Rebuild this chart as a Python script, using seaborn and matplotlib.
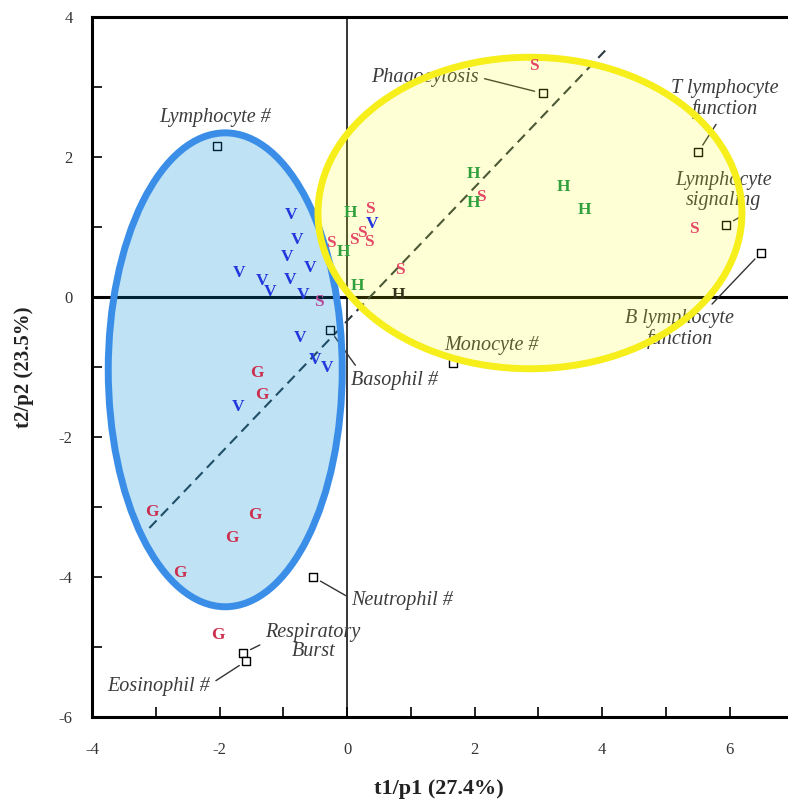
import numpy as np
import pandas as pd
import matplotlib
matplotlib.use("Agg")
import matplotlib.pyplot as plt
from matplotlib.patches import Ellipse
import seaborn as sns

# ---- data -------------------------------------------------------------
v_x = [-0.88, -0.78, -0.94, -0.58, -1.69, -1.33, -1.21, -0.89, -0.69, -0.74, -0.50, -0.31, -1.71, 0.40]
v_y = [1.17, 0.81, 0.57, 0.41, 0.34, 0.23, 0.07, 0.24, 0.03, -0.59, -0.90, -1.01, -1.57, 1.04]

s_x = [-0.25, 0.11, 0.24, 0.35, 0.36, 0.83, 2.10, 2.93, 5.44]
s_y = [0.77, 0.81, 0.91, 0.79, 1.26, 0.39, 1.43, 3.30, 0.97]
s_purple_x = [-0.44]
s_purple_y = [-0.07]

h_x = [0.06, -0.06, 0.17, 1.98, 1.99, 3.39, 3.73]
h_y = [1.20, 0.64, 0.16, 1.76, 1.34, 1.57, 1.24]
h_dark_x = [0.80]
h_dark_y = [0.03]

g_x = [-1.41, -1.33, -3.06, -1.44, -1.80, -2.62, -2.02]
g_y = [-1.09, -1.40, -3.07, -3.11, -3.44, -3.94, -4.83]

load_names = ["Lymphocyte #", "Phagocytosis", "T lymphocyte\nfunction", "Lymphocyte\nsignaling",
              "B lymphocyte\nfunction", "Monocyte #", "Basophil #", "Neutrophil #",
              "Respiratory\nBurst", "Eosinophil #"]
load_x = [-2.04, 3.07, 5.51, 5.95, 6.49, 1.66, -0.27, -0.53, -1.63, -1.58]
load_y = [2.16, 2.91, 2.07, 1.03, 0.63, -0.95, -0.47, -4.00, -5.09, -5.20]
label_x = [-2.07, 1.22, 5.93, 5.90, 5.22, 2.26, 0.74, 0.87, -0.53, -2.95]
label_y = [2.57, 3.14, 2.83, 1.52, -0.46, -0.69, -1.19, -4.34, -4.93, -5.56]
label_rel = [None, (1.0, 0.5), (0.45, 0.0), (0.8, 0.0), (0.75, 1.0), None, (0.1, 1.0),
             (0.0, 0.6), (0.0, 0.5), (1.0, 0.6)]

trend_x = [-3.10, 4.05]
trend_y = [-3.30, 3.52]

blue_center = (-1.91, -1.04)
blue_size = (3.67, 6.77)
yellow_center = (2.87, 1.20)
yellow_size = (6.65, 4.45)

x_ticks = [-4, -2, 0, 2, 4, 6]
y_ticks = [-6, -4, -2, 0, 2, 4]
x_label = "t1/p1 (27.4%)"
y_label = "t2/p2 (23.5%)"

# ---- figure -------------------------------------------------------------
sns.set_style("white")
plt.rcParams["font.family"] = ["Liberation Serif", "DejaVu Serif"]
plt.rcParams["axes.unicode_minus"] = False

fig = plt.figure(figsize=(7.88, 8.01), dpi=100)
ax = fig.add_axes([92 / 788, 84 / 801, 701.25 / 788, 700 / 801])

ax.set_xlim(-4, 7)
ax.set_ylim(-6, 4)

# zero lines
ax.axhline(0, color="black", lw=2.2, zorder=1)
ax.axvline(0, color="black", lw=1.1, zorder=1)

# trend line
trend = pd.DataFrame({"x": trend_x, "y": trend_y})
sns.lineplot(data=trend, x="x", y="y", ax=ax, color="#2b3a40", lw=1.5,
             linestyle=(0, (5, 3)), zorder=2)

# loading squares
loads = pd.DataFrame({"x": load_x, "y": load_y, "name": load_names})
sns.scatterplot(data=loads, x="x", y="y", ax=ax, marker="s", s=40,
                facecolor="white", edgecolor="black", linewidth=1.0, zorder=3)

for name, lx, ly, tx, ty, rel in zip(load_names, load_x, load_y, label_x, label_y, label_rel):
    if rel is None:
        ax.text(tx, ty, name, ha="center", va="center", style="italic",
                fontsize=14.5, color="#3c3c3c", zorder=3)
    else:
        ax.annotate(name, xy=(lx, ly), xytext=(tx, ty), ha="center", va="center",
                    style="italic", fontsize=14.5, color="#3c3c3c", multialignment="center",
                    linespacing=1.05,
                    arrowprops=dict(arrowstyle="-", color="#333333", lw=1.0,
                                    shrinkA=2, shrinkB=6, relpos=rel),
                    zorder=3)

# ellipses (translucent fills, opaque edges)
ax.add_patch(Ellipse(blue_center, blue_size[0], blue_size[1], facecolor=(0.0, 0.55, 0.85, 0.25),
                     edgecolor="none", zorder=5))
ax.add_patch(Ellipse(blue_center, blue_size[0], blue_size[1], facecolor="none",
                     edgecolor="#3a8ee8", lw=5, zorder=6))
ax.add_patch(Ellipse(yellow_center, yellow_size[0], yellow_size[1], facecolor=(1.0, 1.0, 0.0, 0.16),
                     edgecolor="none", zorder=5))
ax.add_patch(Ellipse(yellow_center, yellow_size[0], yellow_size[1], facecolor="none",
                     edgecolor="#f6ef1c", lw=5, zorder=6))

# letter scores (on top)
def letters(xs, ys, ch, color):
    for x, y in zip(xs, ys):
        ax.text(x, y, ch, ha="center", va="center", fontsize=12.5, fontweight="bold",
                color=color, zorder=7)

letters(v_x, v_y, "V", "#2338dc")
letters(s_x, s_y, "S", "#e44a68")
letters(s_purple_x, s_purple_y, "S", "#b54a9a")
letters(h_x, h_y, "H", "#30a03c")
letters(h_dark_x, h_dark_y, "H", "#33331a")
letters(g_x, g_y, "G", "#cc2f4e")

# axes styling
ax.set_xticks(x_ticks)
ax.set_yticks(y_ticks)
ax.set_xticks(np.arange(-4, 7.01, 1), minor=True)
ax.set_yticks(np.arange(-6, 4.01, 1), minor=True)
ax.tick_params(axis="both", which="both", direction="in", length=7, width=1.2,
               color="black", top=False, right=False, bottom=True, left=True)
ax.tick_params(axis="x", which="major", pad=18, labelsize=12)
ax.tick_params(axis="y", which="major", pad=14, labelsize=12)
for lab in ax.get_xticklabels() + ax.get_yticklabels():
    lab.set_color("#333333")
for side in ["left", "bottom", "top"]:
    ax.spines[side].set_color("black")
    ax.spines[side].set_linewidth(2.2)
ax.spines["right"].set_visible(False)

ax.set_xlabel(x_label, fontsize=16, fontweight="bold", color="#222222")
ax.set_ylabel(y_label, fontsize=15, fontweight="bold", color="#222222")
ax.xaxis.set_label_coords((439 - 92) / 701.25, -62 / 700)
ax.yaxis.set_label_coords(-58 / 701.25, (717 - 367) / 700)

fig.savefig("out.png", dpi=100)
